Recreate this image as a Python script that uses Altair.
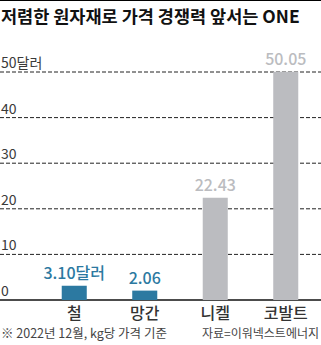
import altair as alt
import pandas as pd

categories = ["철", "망간", "니켈", "코발트"]
values = [3.10, 2.06, 22.43, 50.05]
value_labels = ["3.10달러", "2.06", "22.43", "50.05"]
groups = ["blue", "blue", "gray", "gray"]
tick_values = [0, 10, 20, 30, 40, 50]
tick_labels = ["0", "10", "20", "30", "40", "50달러"]

title_text = "저렴한 원자재로 가격 경쟁력 앞서는 ONE"
note_text = "※ 2022년 12월, kg당 가격 기준"
source_text = "자료=이워넥스트에너지"

W, H = 321, 345
BASE = 300
FONT = "Noto Sans CJK KR"

bars = pd.DataFrame({"cat": categories, "v": values, "lab": value_labels, "g": groups})
ticks = pd.DataFrame({"t": tick_values, "tl": tick_labels})
grid = ticks[ticks["t"] > 0]

xs = alt.Scale(domain=categories, range=[39, 321], paddingInner=0.645, paddingOuter=0.3225)
ys = alt.Scale(domain=[0, BASE / 4.56], range=[BASE, 0], nice=False, zero=True)
cs = alt.Scale(domain=["blue", "gray"], range=["#2c79a1", "#bbbcc0"])
ts = alt.Scale(domain=["blue", "gray"], range=["#2c79a1", "#8b9097"])

gridlines = alt.Chart(grid).mark_rule(color="#222", strokeDash=[4, 2], strokeWidth=1).encode(
    y=alt.Y("t:Q", scale=ys, axis=None), x=alt.value(0), x2=alt.value(W)
)
baseline = alt.Chart(ticks[ticks["t"] == 0]).mark_rule(color="#111", strokeWidth=1.5).encode(
    y=alt.Y("t:Q", scale=ys, axis=None), x=alt.value(0), x2=alt.value(W)
)
ticklab = alt.Chart(ticks).mark_text(
    align="left", baseline="alphabetic", dy=-4, font=FONT, fontSize=14, color="#3a3a3a"
).encode(y=alt.Y("t:Q", scale=ys, axis=None), x=alt.value(1), text="tl:N")

barmark = alt.Chart(bars).mark_bar().encode(
    x=alt.X("cat:N", scale=xs, axis=None, sort=categories),
    y=alt.Y("v:Q", scale=ys, axis=None),
    color=alt.Color("g:N", scale=cs, legend=None),
)
vallab = alt.Chart(bars).mark_text(
    baseline="alphabetic", dy=-7, font=FONT, fontSize=16, fontWeight=500
).encode(
    x=alt.X("cat:N", scale=xs, axis=None, sort=categories),
    y=alt.Y("v:Q", scale=ys, axis=None),
    text="lab:N",
    color=alt.Color("g:N", scale=ts, legend=None),
)
catlab = alt.Chart(bars).mark_text(
    baseline="middle", font=FONT, fontSize=16, fontWeight=500, color="#333"
).encode(
    x=alt.X("cat:N", scale=xs, axis=None, sort=categories),
    y=alt.value(314),
    text="cat:N",
)

topline = alt.Chart(pd.DataFrame({"a": [0]})).mark_rule(color="#000", strokeWidth=2).encode(
    y=alt.value(0), x=alt.value(0), x2=alt.value(W)
)
title = alt.Chart(pd.DataFrame({"s": [title_text]})).mark_text(
    align="left", baseline="middle", font=FONT, fontSize=17.5, fontWeight="bold", color="#111"
).encode(x=alt.value(1), y=alt.value(18), text="s:N")
note = alt.Chart(pd.DataFrame({"s": [note_text]})).mark_text(
    align="left", baseline="middle", font=FONT, fontSize=12.5, color="#444"
).encode(x=alt.value(1), y=alt.value(334), text="s:N")
source = alt.Chart(pd.DataFrame({"s": [source_text]})).mark_text(
    align="right", baseline="middle", font=FONT, fontSize=12, color="#444"
).encode(x=alt.value(319), y=alt.value(334), text="s:N")

chart = alt.layer(
    gridlines, baseline, ticklab, barmark, vallab, catlab, topline, title, note, source
).properties(
    width=W, height=H, padding=0, autosize=alt.AutoSizeParams(type="none")
).configure_view(stroke=None)

chart.save("out.html", embed_options={"renderer": "svg", "actions": False})
